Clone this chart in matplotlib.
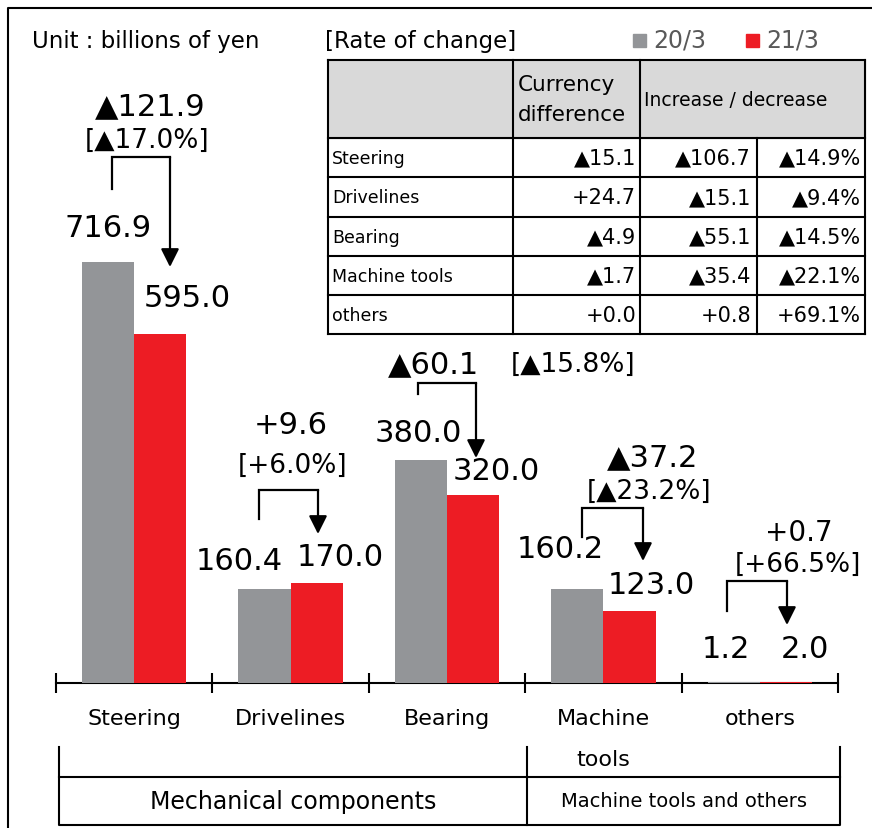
import matplotlib
matplotlib.use('Agg')
import matplotlib.pyplot as plt
import matplotlib.transforms as mtransforms
from matplotlib.patches import Rectangle
import numpy as np

# data
categories = ['Steering', 'Drivelines', 'Bearing', 'Machine\ntools', 'others']
sales_2003 = [716.9, 160.4, 380.0, 160.2, 1.2]
sales_2103 = [595.0, 170.0, 320.0, 123.0, 2.0]
change_amount = ['▲121.9', '+9.6', '▲60.1', '▲37.2', '+0.7']
change_rate = ['[▲17.0%]', '[+6.0%]', '[▲15.8%]', '[▲23.2%]', '[+66.5%]']
series_names = ['20/3', '21/3']

table_rows = ['Steering', 'Drivelines', 'Bearing', 'Machine tools', 'others']
table_currency = ['▲15.1', '+24.7', '▲4.9', '▲1.7', '+0.0']
table_change = ['▲106.7', '▲15.1', '▲55.1', '▲35.4', '+0.8']
table_rate = ['▲14.9%', '▲9.4%', '▲14.5%', '▲22.1%', '+69.1%']

groups = ['Mechanical components', 'Machine tools and others']

GRAY = '#939598'
RED = '#ed1c24'

# label placement (pixels)
val_pos_2003 = [(108, 228), (239, 561), (418, 433), (560, 549), (726, 649)]
val_pos_2103 = [(187, 298), (340, 558), (496, 472), (651, 586), (805, 649)]
amount_pos = [(150, 107), (291, 425), (434, 365), (653, 458), (799, 533)]
rate_pos = [(147, 141), (293, 466), (573, 365), (649, 492), (798, 565)]
amount_size = [22, 22, 22, 22, 20]
rate_size = [19, 19, 19, 19, 19]
# connector: left x, left bottom y, top y, right x, arrow tip y
connectors = [(112, 190, 158, 170, 268),
              (259, 520, 491, 318, 535),
              (418, 395, 384, 476, 459),
              (582, 538, 509, 643, 562),
              (727, 612, 582, 787, 626)]

fig = plt.figure(figsize=(8.72, 8.29), dpi=100)

# bar axes
ax = fig.add_axes([56 / 872, (829 - 684) / 829, (838 - 56) / 872, 675 / 829])
x = np.arange(len(categories))
w = 1 / 3
ax.bar(x - w / 2, sales_2003, w, color=GRAY, zorder=3)
ax.bar(x + w / 2, sales_2103, w, color=RED, zorder=3)
ax.set_xlim(-0.5, 4.5)
ax.set_ylim(0, 1150)
for s in ['top', 'right', 'left']:
    ax.spines[s].set_visible(False)
ax.spines['bottom'].set_linewidth(1.5)
ax.set_yticks([])
ax.set_xticks(np.arange(-0.5, 5, 1))
ax.set_xticklabels([])
ax.tick_params(axis='x', direction='inout', length=14, width=1.5)
ax.patch.set_alpha(0)

# overlay in pixel coordinates
ov = fig.add_axes([0, 0, 1, 1])
ov.set_xlim(0, 872)
ov.set_ylim(829, 0)
ov.axis('off')

# outer frame (left and top edges)
ov.plot([8, 8, 872], [829, 9, 9], color='k', lw=1.5, clip_on=False)

ov.text(32, 41, 'Unit : billions of yen', fontsize=16.5, va='center', ha='left')
ov.text(325, 41, '[Rate of change]', fontsize=16.5, va='center', ha='left')

# legend
for (lx, col, name) in [(633, GRAY, series_names[0]), (746, RED, series_names[1])]:
    ov.add_patch(Rectangle((lx, 35), 13, 13, color=col))
    ov.text(lx + 20, 40, name, fontsize=17, color='#595959', va='center', ha='left')

# value labels, change labels and connectors
for i in range(len(categories)):
    ov.text(*val_pos_2003[i], f'{sales_2003[i]:.1f}', fontsize=22, ha='center', va='center')
    ov.text(*val_pos_2103[i], f'{sales_2103[i]:.1f}', fontsize=22, ha='center', va='center')
    ov.text(*amount_pos[i], change_amount[i], fontsize=amount_size[i], ha='center', va='center')
    ov.text(*rate_pos[i], change_rate[i], fontsize=rate_size[i], ha='center', va='center')
    x1, yb, yt, x2, tip = connectors[i]
    ov.plot([x1, x1, x2], [yb, yt, yt], color='k', lw=1.6, solid_joinstyle='miter')
    ov.annotate('', xy=(x2, tip), xytext=(x2, yt),
                arrowprops=dict(arrowstyle='-|>,head_length=1.1,head_width=0.55',
                                mutation_scale=10, lw=1.6, color='k',
                                shrinkA=0, shrinkB=0))

# category labels (one text per line, lines 41 px apart)
trans = mtransforms.blended_transform_factory(ax.transData, ov.transData)
for i, c in enumerate(categories):
    for k, line in enumerate(c.split('\n')):
        ov.text(i, 719 + 41 * k, line, transform=trans, fontsize=16,
                ha='center', va='center')

# group boxes
ov.plot([59, 59, 840, 840], [748, 826, 826, 748], color='k', lw=1.5)
ov.plot([59, 840], [778, 778], color='k', lw=1.5)
ov.plot([527, 527], [748, 826], color='k', lw=1.5)
ov.text(293, 802, groups[0], fontsize=17, ha='center', va='center')
ov.text(684, 802, groups[1], fontsize=14, ha='center', va='center')

# table
tl, tr = 328, 865
col_x = [328, 513, 640, 757, 865]
row_y = [61, 139, 178, 218, 257, 296, 335]
ov.add_patch(Rectangle((tl, row_y[0]), tr - tl, row_y[1] - row_y[0], color='#d9d9d9', zorder=0))
for y in row_y:
    ov.plot([tl, tr], [y, y], color='k', lw=1.5)
ov.plot([tl, tl], [row_y[0], row_y[-1]], color='k', lw=1.5)
ov.plot([tr, tr], [row_y[0], row_y[-1]], color='k', lw=1.5)
ov.plot([col_x[1], col_x[1]], [row_y[0], row_y[-1]], color='k', lw=1.5)
ov.plot([col_x[2], col_x[2]], [row_y[0], row_y[-1]], color='k', lw=1.5)
ov.plot([col_x[3], col_x[3]], [row_y[1], row_y[-1]], color='k', lw=1.5)

ov.text(518, 85, 'Currency', fontsize=15.5, ha='left', va='center')
ov.text(518, 115, 'difference', fontsize=15.5, ha='left', va='center')
ov.text(644, 100, 'Increase / decrease', fontsize=13.5, ha='left', va='center')

for r in range(len(table_rows)):
    yc = (row_y[r + 1] + row_y[r + 2]) / 2
    ov.text(332, yc, table_rows[r], fontsize=12.5, ha='left', va='center')
    ov.text(col_x[2] - 4, yc, table_currency[r], fontsize=15, ha='right', va='center')
    ov.text(col_x[3] - 6, yc, table_change[r], fontsize=15, ha='right', va='center')
    ov.text(col_x[4] - 4, yc, table_rate[r], fontsize=15, ha='right', va='center')

plt.savefig('out.png', dpi=100)
